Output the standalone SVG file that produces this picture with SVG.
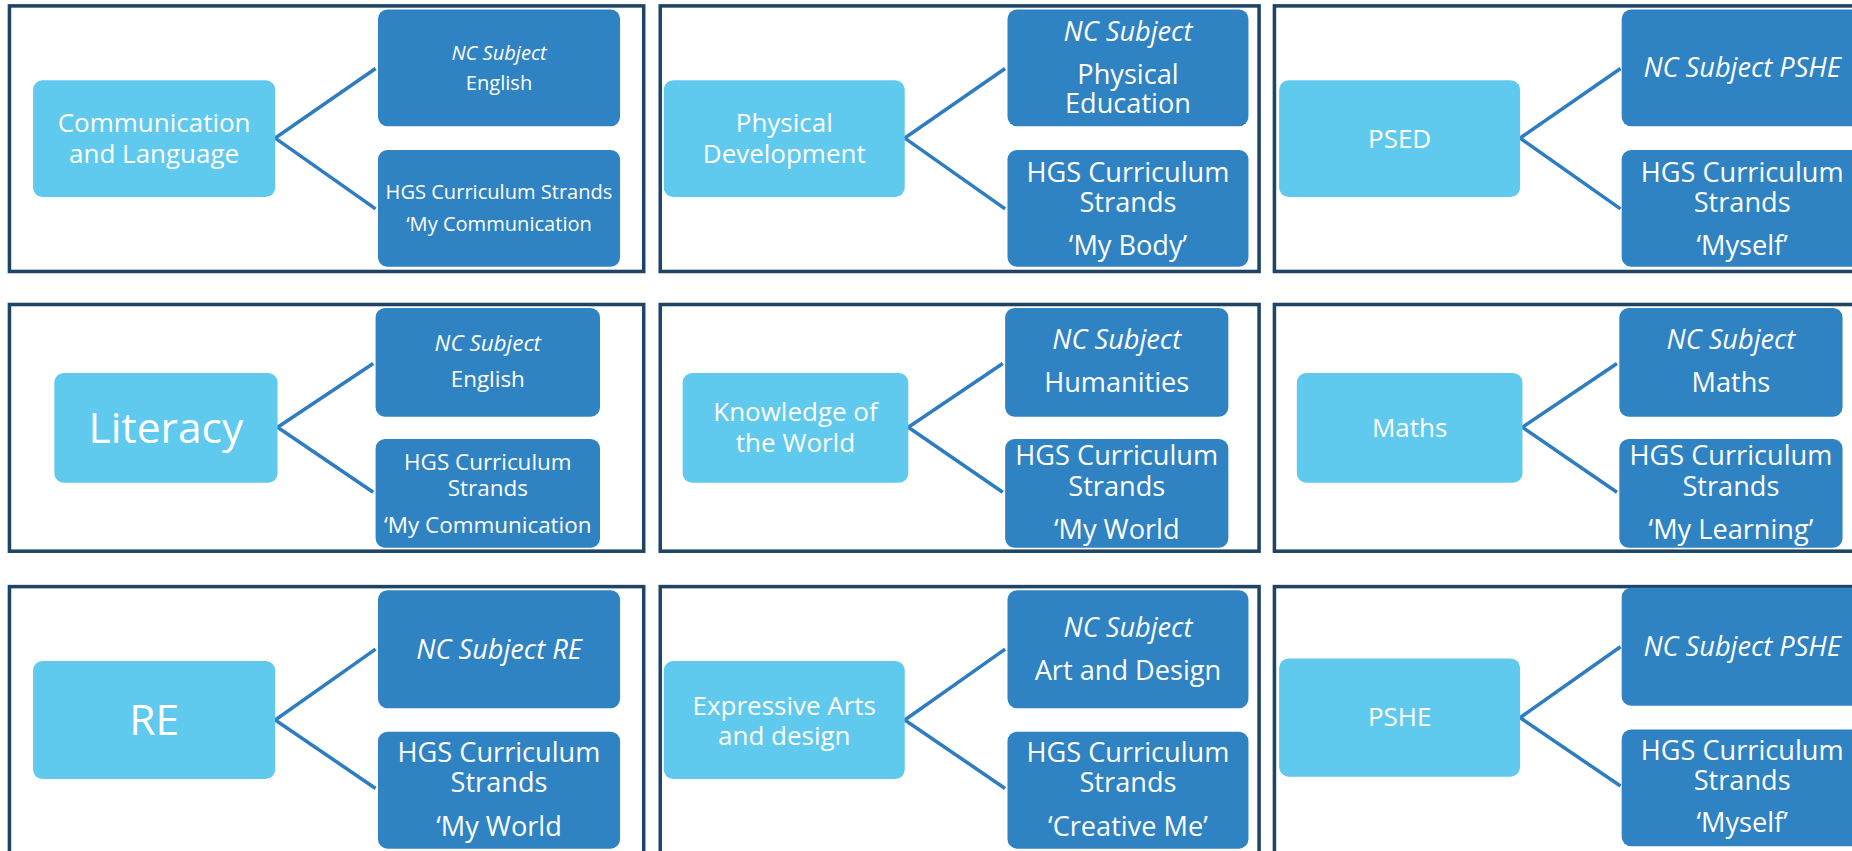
<svg xmlns="http://www.w3.org/2000/svg" width="1852" height="851" viewBox="0 0 1852 851">
<style>
.frame{fill:#ffffff;stroke:#1f4464;stroke-width:3}
.lb{fill:#5fcaee}
.db{fill:#2f83c3}
.cn{fill:none;stroke:#2e7dc0;stroke-width:3}
text{font-family:"Open Sans","Noto Sans","DejaVu Sans",sans-serif;fill:#ffffff;text-anchor:middle}
.it{font-style:italic}
</style>
<rect width="1852" height="851" fill="#ffffff"/>
<g transform="scale(1.18112,1.1803)">
<g id="frames">
<rect class="frame" x="8" y="5" width="537" height="225"/>
<rect class="frame" x="559" y="5" width="507" height="225"/>
<rect class="frame" x="1079" y="5" width="520" height="225"/>
<rect class="frame" x="8" y="258" width="537" height="209"/>
<rect class="frame" x="559" y="258" width="507" height="209"/>
<rect class="frame" x="1079" y="258" width="520" height="209"/>
<rect class="frame" x="8" y="497" width="537" height="240"/>
<rect class="frame" x="559" y="497" width="507" height="240"/>
<rect class="frame" x="1079" y="497" width="520" height="240"/>
</g>
<g id="connectors">
<path class="cn" d="M318,58 L233,117 L318,177"/>
<path class="cn" d="M851,58 L766,117 L851,177"/>
<path class="cn" d="M1372,58 L1287,117 L1372,177"/>
<path class="cn" d="M316,308 L235,362 L316,417"/>
<path class="cn" d="M849,308 L769,362 L849,417"/>
<path class="cn" d="M1369,308 L1289,362 L1369,417"/>
<path class="cn" d="M318,550 L233,610 L318,668"/>
<path class="cn" d="M851,550 L766,610 L851,668"/>
<path class="cn" d="M1372,548 L1287,608 L1372,666"/>
</g>
<g id="n1">
<rect class="lb" x="28" y="68" width="205" height="99" rx="8"/>
<text font-size="22"><tspan x="130.5" y="112">Communication</tspan><tspan x="130.5" y="138">and Language</tspan></text>
</g>
<g id="n1a">
<rect class="db" x="320" y="8" width="205" height="99" rx="8"/>
<text font-size="17"><tspan class="it" x="422.5" y="51">NC Subject</tspan><tspan x="422.5" y="76">English</tspan></text>
</g>
<g id="n1b">
<rect class="db" x="320" y="127" width="205" height="99" rx="8"/>
<text font-size="17"><tspan x="422.5" y="169">HGS Curriculum Strands</tspan><tspan x="422.5" y="196">‘My Communication</tspan></text>
</g>
<g id="n2">
<rect class="lb" x="562" y="68" width="204" height="99" rx="8"/>
<text font-size="22"><tspan x="664" y="112">Physical</tspan><tspan x="664" y="138">Development</tspan></text>
</g>
<g id="n2a">
<rect class="db" x="853" y="8" width="204" height="99" rx="8"/>
<text font-size="23"><tspan class="it" x="955" y="35">NC Subject</tspan><tspan x="955" y="71">Physical</tspan><tspan x="955" y="96">Education</tspan></text>
</g>
<g id="n2b">
<rect class="db" x="853" y="127" width="204" height="99" rx="8"/>
<text font-size="23"><tspan x="955" y="154">HGS Curriculum</tspan><tspan x="955" y="180">Strands</tspan><tspan x="955" y="216">‘My Body’</tspan></text>
</g>
<g id="n3">
<rect class="lb" x="1083" y="68" width="204" height="99" rx="8"/>
<text font-size="22" x="1185" y="125">PSED</text>
</g>
<g id="n3a">
<rect class="db" x="1373" y="8" width="204" height="99" rx="8"/>
<text class="it" font-size="23" x="1475" y="65">NC Subject PSHE</text>
</g>
<g id="n3b">
<rect class="db" x="1373" y="127" width="204" height="99" rx="8"/>
<text font-size="23"><tspan x="1475" y="154">HGS Curriculum</tspan><tspan x="1475" y="180">Strands</tspan><tspan x="1475" y="216">‘Myself’</tspan></text>
</g>
<g id="n4">
<rect class="lb" x="46" y="316" width="189" height="93" rx="8"/>
<text font-size="36" x="140.5" y="375">Literacy</text>
</g>
<g id="n4a">
<rect class="db" x="318" y="261" width="190" height="92" rx="8"/>
<text font-size="19"><tspan class="it" x="413" y="297">NC Subject</tspan><tspan x="413" y="328">English</tspan></text>
</g>
<g id="n4b">
<rect class="db" x="318" y="372" width="190" height="92" rx="8"/>
<text font-size="19"><tspan x="413" y="398">HGS Curriculum</tspan><tspan x="413" y="420">Strands</tspan><tspan x="413" y="452">‘My Communication</tspan></text>
</g>
<g id="n5">
<rect class="lb" x="578" y="316" width="191" height="93" rx="8"/>
<text font-size="22"><tspan x="673.5" y="357">Knowledge of</tspan><tspan x="673.5" y="383">the World</tspan></text>
</g>
<g id="n5a">
<rect class="db" x="851" y="261" width="189" height="92" rx="8"/>
<text font-size="23"><tspan class="it" x="945.5" y="296">NC Subject</tspan><tspan x="945.5" y="332">Humanities</tspan></text>
</g>
<g id="n5b">
<rect class="db" x="851" y="372" width="189" height="92" rx="8"/>
<text font-size="23"><tspan x="945.5" y="394">HGS Curriculum</tspan><tspan x="945.5" y="420">Strands</tspan><tspan x="945.5" y="457">‘My World</tspan></text>
</g>
<g id="n6">
<rect class="lb" x="1098" y="316" width="191" height="93" rx="8"/>
<text font-size="22" x="1193.5" y="370">Maths</text>
</g>
<g id="n6a">
<rect class="db" x="1371" y="261" width="189" height="92" rx="8"/>
<text font-size="23"><tspan class="it" x="1465.5" y="296">NC Subject</tspan><tspan x="1465.5" y="332">Maths</tspan></text>
</g>
<g id="n6b">
<rect class="db" x="1371" y="372" width="189" height="92" rx="8"/>
<text font-size="23"><tspan x="1465.5" y="394">HGS Curriculum</tspan><tspan x="1465.5" y="420">Strands</tspan><tspan x="1465.5" y="457">‘My Learning’</tspan></text>
</g>
<g id="n7">
<rect class="lb" x="28" y="560" width="205" height="100" rx="8"/>
<text font-size="36" x="130.5" y="623">RE</text>
</g>
<g id="n7a">
<rect class="db" x="320" y="500" width="205" height="100" rx="8"/>
<text class="it" font-size="23" x="422.5" y="558">NC Subject RE</text>
</g>
<g id="n7b">
<rect class="db" x="320" y="620" width="205" height="99" rx="8"/>
<text font-size="23"><tspan x="422.5" y="646">HGS Curriculum</tspan><tspan x="422.5" y="671">Strands</tspan><tspan x="422.5" y="708">‘My World</tspan></text>
</g>
<g id="n8">
<rect class="lb" x="562" y="560" width="204" height="100" rx="8"/>
<text font-size="22"><tspan x="664" y="606">Expressive Arts</tspan><tspan x="664" y="631">and design</tspan></text>
</g>
<g id="n8a">
<rect class="db" x="853" y="500" width="204" height="100" rx="8"/>
<text font-size="23"><tspan class="it" x="955" y="540">NC Subject</tspan><tspan x="955" y="576">Art and Design</tspan></text>
</g>
<g id="n8b">
<rect class="db" x="853" y="620" width="204" height="99" rx="8"/>
<text font-size="23"><tspan x="955" y="646">HGS Curriculum</tspan><tspan x="955" y="671">Strands</tspan><tspan x="955" y="708">‘Creative Me’</tspan></text>
</g>
<g id="n9">
<rect class="lb" x="1083" y="558" width="204" height="100" rx="8"/>
<text font-size="22" x="1185" y="615">PSHE</text>
</g>
<g id="n9a">
<rect class="db" x="1373" y="498" width="204" height="100" rx="8"/>
<text class="it" font-size="23" x="1475" y="556">NC Subject PSHE</text>
</g>
<g id="n9b">
<rect class="db" x="1373" y="618" width="204" height="99" rx="8"/>
<text font-size="23"><tspan x="1475" y="644">HGS Curriculum</tspan><tspan x="1475" y="669">Strands</tspan><tspan x="1475" y="705">‘Myself’</tspan></text>
</g>
</g>
</svg>
